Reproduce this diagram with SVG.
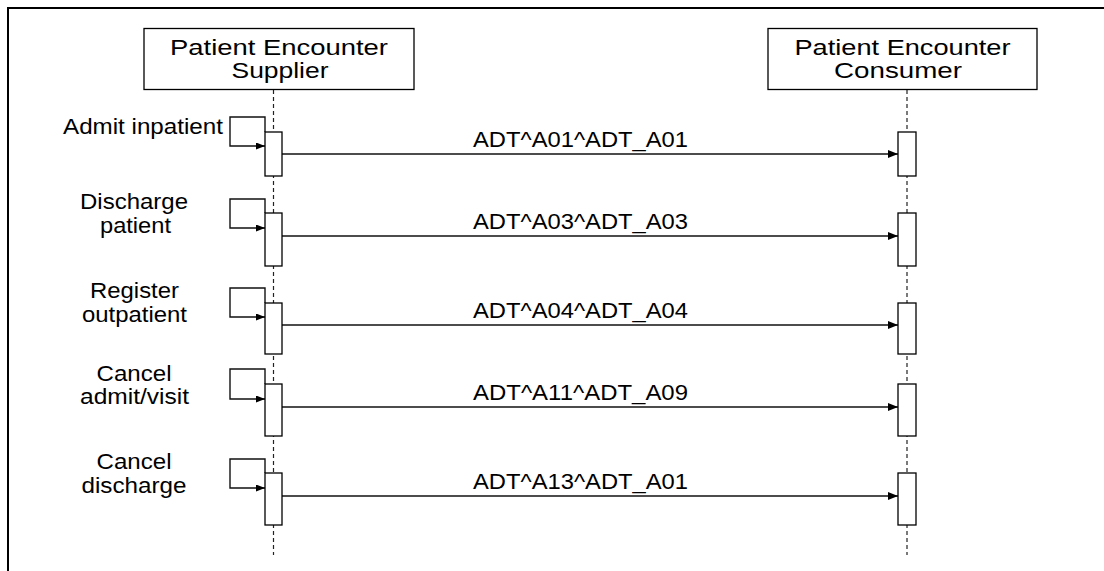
<svg xmlns="http://www.w3.org/2000/svg" width="1104" height="571" viewBox="0 0 1104 571">
<defs>
<style>
text{font-family:"Liberation Sans",Arial,sans-serif;font-size:22px;fill:#000;text-anchor:middle}
.box{fill:#fff;stroke:#000;stroke-width:1.3}
.life{stroke:#222;stroke-width:1.2;stroke-dasharray:4 3;fill:none}
.msg{stroke:#111;stroke-width:1.4;fill:none}
.frame{stroke:#000;stroke-width:2;fill:none}
</style>
<marker id="ah" markerWidth="10" markerHeight="8" refX="10" refY="4" orient="auto" markerUnits="userSpaceOnUse"><path d="M0,0 L10,4 L0,8 Z" fill="#000"/></marker>
<marker id="ahs" markerWidth="9" markerHeight="7" refX="9" refY="3.5" orient="auto" markerUnits="userSpaceOnUse"><path d="M0,0 L9,3.5 L0,7 Z" fill="#000"/></marker>
</defs>
<rect width="1104" height="571" fill="#fff"/>
<path class="frame" d="M8,571 V8 H1104"/>
<g id="connectors">
<line class="life" x1="273.5" y1="90" x2="273.5" y2="555"/>
<line class="life" x1="907" y1="90" x2="907" y2="555"/>
<path class="msg" d="M265,132 V117 H230 V146 H265" marker-end="url(#ahs)"/>
<path class="msg" d="M265,213 V199 H230 V228 H265" marker-end="url(#ahs)"/>
<path class="msg" d="M265,303 V288 H230 V317 H265" marker-end="url(#ahs)"/>
<path class="msg" d="M265,384 V369 H230 V399 H265" marker-end="url(#ahs)"/>
<path class="msg" d="M265,473 V459 H230 V488 H265" marker-end="url(#ahs)"/>
<line class="msg" x1="282" y1="154" x2="898" y2="154" marker-end="url(#ah)"/>
<line class="msg" x1="282" y1="236" x2="898" y2="236" marker-end="url(#ah)"/>
<line class="msg" x1="282" y1="325" x2="898" y2="325" marker-end="url(#ah)"/>
<line class="msg" x1="282" y1="407" x2="898" y2="407" marker-end="url(#ah)"/>
<line class="msg" x1="282" y1="496" x2="898" y2="496" marker-end="url(#ah)"/>
<text x="580.5" y="147" textLength="215" lengthAdjust="spacingAndGlyphs">ADT^A01^ADT_A01</text>
<text x="580.5" y="229" textLength="215" lengthAdjust="spacingAndGlyphs">ADT^A03^ADT_A03</text>
<text x="580.5" y="318" textLength="215" lengthAdjust="spacingAndGlyphs">ADT^A04^ADT_A04</text>
<text x="580.5" y="400" textLength="215" lengthAdjust="spacingAndGlyphs">ADT^A11^ADT_A09</text>
<text x="580.5" y="489" textLength="215" lengthAdjust="spacingAndGlyphs">ADT^A13^ADT_A01</text>
</g>
<g id="supplier">
<rect class="box" x="144" y="28.5" width="270" height="61"/>
<text x="279" y="55" textLength="218" lengthAdjust="spacingAndGlyphs">Patient Encounter</text>
<text x="280" y="78" textLength="97" lengthAdjust="spacingAndGlyphs">Supplier</text>
</g>
<g id="consumer">
<rect class="box" x="768" y="28.5" width="269" height="61"/>
<text x="902.5" y="55" textLength="216" lengthAdjust="spacingAndGlyphs">Patient Encounter</text>
<text x="898" y="78" textLength="128" lengthAdjust="spacingAndGlyphs">Consumer</text>
</g>
<g id="step1">
<text x="143" y="134" textLength="160" lengthAdjust="spacingAndGlyphs">Admit inpatient</text>
<rect class="box" x="265" y="132" width="17" height="44"/>
<rect class="box" x="898" y="132" width="18" height="44"/>
</g>
<g id="step2">
<text x="134" y="209" textLength="108" lengthAdjust="spacingAndGlyphs">Discharge</text>
<text x="135.5" y="233" textLength="71" lengthAdjust="spacingAndGlyphs">patient</text>
<rect class="box" x="265" y="213" width="17" height="53"/>
<rect class="box" x="898" y="213" width="18" height="53"/>
</g>
<g id="step3">
<text x="134.5" y="298" textLength="89" lengthAdjust="spacingAndGlyphs">Register</text>
<text x="134.5" y="322" textLength="105" lengthAdjust="spacingAndGlyphs">outpatient</text>
<rect class="box" x="265" y="303" width="17" height="51"/>
<rect class="box" x="898" y="303" width="18" height="51"/>
</g>
<g id="step4">
<text x="134" y="381" textLength="75" lengthAdjust="spacingAndGlyphs">Cancel</text>
<text x="134.5" y="404" textLength="109" lengthAdjust="spacingAndGlyphs">admit/visit</text>
<rect class="box" x="265" y="384" width="17" height="52"/>
<rect class="box" x="898" y="384" width="18" height="52"/>
</g>
<g id="step5">
<text x="134" y="469" textLength="75" lengthAdjust="spacingAndGlyphs">Cancel</text>
<text x="134" y="493" textLength="105" lengthAdjust="spacingAndGlyphs">discharge</text>
<rect class="box" x="265" y="473" width="17" height="52"/>
<rect class="box" x="898" y="473" width="18" height="52"/>
</g>
</svg>
